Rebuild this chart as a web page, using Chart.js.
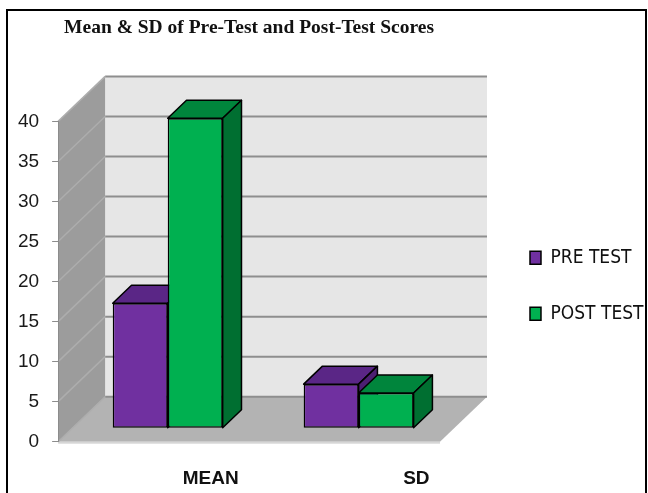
<!DOCTYPE html>
<html>
<head>
<meta charset="utf-8">
<script src="https://cdn.jsdelivr.net/npm/chart.js@4.4.1/dist/chart.umd.min.js"></script>
<style>
  body { margin: 0; background: #fff; }
  #wrap { position: relative; width: 648px; height: 493px; overflow: hidden; }
  .frame { position: absolute; left: 6px; top: 9px; width: 637px; height: 520px;
           border: 2px solid #000; pointer-events: none; }
</style>
</head>
<body>
<div id="wrap">
  <canvas id="myChart" width="648" height="493"></canvas>
  <div class="frame"></div>
</div>
<script>
const categories = ['MEAN', 'SD'];
const preTest = [15.6, 5.5];
const postTest = [38.7, 4.4];
const yTicks = [0, 5, 10, 15, 20, 25, 30, 35, 40];

// 3d look: depth of the plot box and where the bars sit inside it
const DX = 47, DY = -45;
const BAR_FRONT = 0.3, BAR_DEPTH = 0.4;
const topColors = ['#5a2686', '#00853c'];
const sideColors = ['#4c1f72', '#006f31'];

function poly(ctx, pts, fill, stroke, lw) {
    ctx.beginPath();
    ctx.moveTo(pts[0][0], pts[0][1]);
    for (let i = 1; i < pts.length; i++) ctx.lineTo(pts[i][0], pts[i][1]);
    ctx.closePath();
    ctx.fillStyle = fill;
    ctx.fill();
    if (stroke) {
        ctx.strokeStyle = stroke;
        ctx.lineWidth = lw;
        ctx.lineJoin = 'round';
        ctx.stroke();
    }
}

const box3d = {
    id: 'box3d',
    beforeDraw(chart) {
        const { ctx, chartArea: a, scales: { y } } = chart;
        const l = a.left, r = a.right;
        const b = y.getPixelForValue(yTicks[0]);
        const t = y.getPixelForValue(yTicks[yTicks.length - 1]);
        ctx.save();
        // back wall
        poly(ctx, [[l + DX, t + DY], [r + DX, t + DY], [r + DX, b + DY], [l + DX, b + DY]], '#e6e6e6');
        // left wall
        poly(ctx, [[l, t], [l + DX, t + DY], [l + DX, b + DY], [l, b]], '#9c9c9c');
        // floor
        poly(ctx, [[l, b], [r, b], [r + DX, b + DY], [l + DX, b + DY]], '#b3b3b3');
        ctx.fillStyle = '#d6d6d6';
        ctx.fillRect(l, b, r - l, 2);
        // grid lines
        yTicks.forEach(v => {
            const py = y.getPixelForValue(v);
            ctx.beginPath();
            ctx.strokeStyle = '#8e8e8e';
            ctx.lineWidth = 2;
            ctx.moveTo(l + DX, py + DY);
            ctx.lineTo(r + DX, py + DY);
            ctx.stroke();
            ctx.beginPath();
            ctx.strokeStyle = '#adadad';
            ctx.lineWidth = 1.5;
            ctx.moveTo(l, py);
            ctx.lineTo(l + DX, py + DY);
            ctx.stroke();
        });
        ctx.restore();
    },
    // draw the boxes left to right so each bar hides the side of its neighbour
    beforeDatasetsDraw(chart) {
        const ctx = chart.ctx;
        const bx = DX * BAR_DEPTH, by = DY * BAR_DEPTH;
        const bars = [];
        chart.data.datasets.forEach((ds, i) => {
            chart.getDatasetMeta(i).data.forEach(bar => bars.push({ bar, i }));
        });
        bars.sort((p, q) => p.bar.x - q.bar.x);
        bars.forEach(({ bar, i }) => {
            const { x, y, base, width } = bar.getProps(['x', 'y', 'base', 'width'], true);
            const l = x - width / 2, r = x + width / 2;
            ctx.save();
            ctx.translate(DX * BAR_FRONT, DY * BAR_FRONT);
            bar.draw(ctx);
            poly(ctx, [[l, y], [r, y], [r + bx, y + by], [l + bx, y + by]], topColors[i], '#000', 1.5);
            poly(ctx, [[r, y], [r, base], [r + bx, base + by], [r + bx, y + by]], sideColors[i], '#000', 1.5);
            ctx.restore();
        });
        return false;
    }
};

const ctx = document.getElementById('myChart').getContext('2d');

const data = {
    labels: categories,
    datasets: [
        {
            label: 'PRE TEST',
            data: preTest,
            backgroundColor: '#7030a0',
            borderColor: '#000',
            borderWidth: 1.5,
            borderSkipped: false
        },
        {
            label: 'POST TEST',
            data: postTest,
            backgroundColor: '#00b050',
            borderColor: '#000',
            borderWidth: 1.5,
            borderSkipped: false
        }
    ]
};

const config = {
    type: 'bar',
    data: data,
    options: {
        responsive: false,
        animation: false,
        layout: { padding: { left: 5, right: -5.5, top: 0, bottom: 0 } },
        categoryPercentage: 0.576,
        barPercentage: 1,
        scales: {
            x: {
                grid: { display: false, drawTicks: false },
                border: { display: false },
                ticks: {
                    align: 'end',
                    labelOffset: 85,
                    padding: 26,
                    maxRotation: 0,
                    color: '#111',
                    font: { family: 'Liberation Sans', size: 19, weight: 'bold' }
                },
                afterFit: s => { s.height = 51.3; }
            },
            y: {
                min: yTicks[0],
                max: yTicks[yTicks.length - 1],
                afterBuildTicks: s => { s.ticks = yTicks.map(v => ({ value: v })); },
                grid: { drawOnChartArea: false, drawTicks: true, tickLength: 6, color: '#8c8c8c' },
                border: { display: true, color: '#8c8c8c' },
                ticks: {
                    padding: 13,
                    color: '#1a1a1a',
                    font: { family: 'Liberation Sans', size: 19 }
                }
            },
            // empty axis that keeps room for the depth of the walls
            depth: {
                position: 'right',
                grid: { display: false, drawTicks: false },
                border: { display: false },
                ticks: { display: false },
                afterFit: s => { s.width = 53; }
            }
        },
        plugins: {
            title: {
                display: true,
                fullSize: false,
                text: 'Mean & SD of Pre-Test and Post-Test Scores',
                color: '#111',
                font: { family: 'Liberation Serif', size: 19.5, weight: 'bold' },
                padding: { top: 16, bottom: 82 }
            },
            legend: {
                position: 'right',
                maxWidth: 300,
                title: { display: true, text: '', padding: { top: 64, bottom: 0 }, font: { size: 12 } },
                labels: {
                    boxWidth: 11,
                    boxHeight: 13,
                    padding: 37,
                    color: '#111',
                    font: { family: "'DejaVu Sans Condensed', 'Liberation Sans'", size: 19 }
                }
            },
            tooltip: { enabled: false }
        }
    },
    plugins: [box3d]
};

const myChart = new Chart(ctx, config);
</script>
</body>
</html>
